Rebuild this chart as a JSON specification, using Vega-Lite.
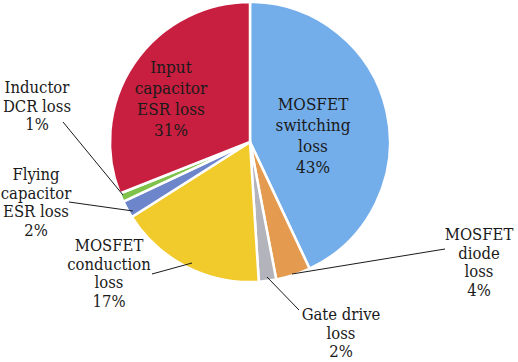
{
  "$schema": "https://vega.github.io/schema/vega-lite/v6.json",
  "width": 500,
  "height": 284,
  "autosize": {"type": "none"},
  "padding": {"left": 0, "top": 0, "right": 18, "bottom": 78},
  "background": "white",
  "config": {"view": {"stroke": null}, "font": "DejaVu Serif"},
  "datasets": {
    "slices": [
      {"category": "MOSFET switching loss", "share": 43},
      {"category": "MOSFET diode loss", "share": 4},
      {"category": "Gate drive loss", "share": 2},
      {"category": "MOSFET conduction loss", "share": 17},
      {"category": "Flying capacitor ESR loss", "share": 2},
      {"category": "Inductor DCR loss", "share": 1},
      {"category": "Input capacitor ESR loss", "share": 31}
    ],
    "labels": [
      {"group": "inside", "text": "Input\ncapacitor\nESR loss\n31%", "lx": 171, "ly": 60},
      {"group": "inside", "text": "MOSFET\nswitching\nloss\n43%", "lx": 313, "ly": 97},
      {"group": "outside", "text": "Inductor\nDCR loss\n1%", "lx": 37, "ly": 80},
      {"group": "outside", "text": "Flying\ncapacitor\nESR loss\n2%", "lx": 36, "ly": 167},
      {"group": "outside", "text": "MOSFET\nconduction\nloss\n17%", "lx": 109, "ly": 238},
      {"group": "outside", "text": "MOSFET\ndiode\nloss\n4%", "lx": 479, "ly": 227},
      {"group": "outside", "text": "Gate drive\nloss\n2%", "lx": 341, "ly": 307}
    ],
    "leaders": [
      {"x1": 63, "y1": 122, "x2": 123, "y2": 195},
      {"x1": 69, "y1": 202, "x2": 133, "y2": 211},
      {"x1": 152, "y1": 274, "x2": 192, "y2": 263},
      {"x1": 445, "y1": 249, "x2": 292, "y2": 274},
      {"x1": 267, "y1": 277, "x2": 299, "y2": 310}
    ]
  },
  "layer": [
    {
      "data": {"name": "slices"},
      "transform": [{"window": [{"op": "row_number", "as": "rank"}]}],
      "mark": {"type": "arc", "outerRadius": 140, "stroke": "white", "strokeWidth": 2.5},
      "encoding": {
        "theta": {"field": "share", "type": "quantitative", "stack": true},
        "order": {"field": "rank", "type": "quantitative"},
        "color": {
          "field": "category",
          "type": "nominal",
          "scale": {
            "domain": ["MOSFET switching loss", "MOSFET diode loss", "Gate drive loss", "MOSFET conduction loss", "Flying capacitor ESR loss", "Inductor DCR loss", "Input capacitor ESR loss"],
            "range": ["#74aeea", "#e49b50", "#b3b3bb", "#f1ca2c", "#6d86cb", "#7fc24b", "#c81f40"]
          },
          "legend": null
        }
      }
    },
    {
      "data": {"name": "leaders"},
      "mark": {"type": "rule", "color": "#1a1a1a", "strokeWidth": 1},
      "encoding": {
        "x": {"field": "x1", "type": "quantitative", "scale": {"domain": [0, 500], "nice": false, "zero": false}, "axis": null},
        "y": {"field": "y1", "type": "quantitative", "scale": {"domain": [0, 284], "reverse": true, "nice": false, "zero": false}, "axis": null},
        "x2": {"field": "x2"},
        "y2": {"field": "y2"}
      }
    },
    {
      "data": {"name": "labels"},
      "transform": [{"filter": "datum.group === 'inside'"}],
      "mark": {"type": "text", "font": "DejaVu Serif Condensed", "fontSize": 17, "lineBreak": "\n", "lineHeight": 21, "align": "center", "baseline": "top", "color": "#1a1a1a"},
      "encoding": {
        "x": {"field": "lx", "type": "quantitative", "scale": {"domain": [0, 500], "nice": false, "zero": false}, "axis": null},
        "y": {"field": "ly", "type": "quantitative", "scale": {"domain": [0, 284], "reverse": true, "nice": false, "zero": false}, "axis": null},
        "text": {"field": "text"}
      }
    },
    {
      "data": {"name": "labels"},
      "transform": [{"filter": "datum.group === 'outside'"}],
      "mark": {"type": "text", "font": "DejaVu Serif Condensed", "fontSize": 16.5, "lineBreak": "\n", "lineHeight": 18.5, "align": "center", "baseline": "top", "color": "#1a1a1a"},
      "encoding": {
        "x": {"field": "lx", "type": "quantitative", "scale": {"domain": [0, 500], "nice": false, "zero": false}, "axis": null},
        "y": {"field": "ly", "type": "quantitative", "scale": {"domain": [0, 284], "reverse": true, "nice": false, "zero": false}, "axis": null},
        "text": {"field": "text"}
      }
    }
  ]
}
